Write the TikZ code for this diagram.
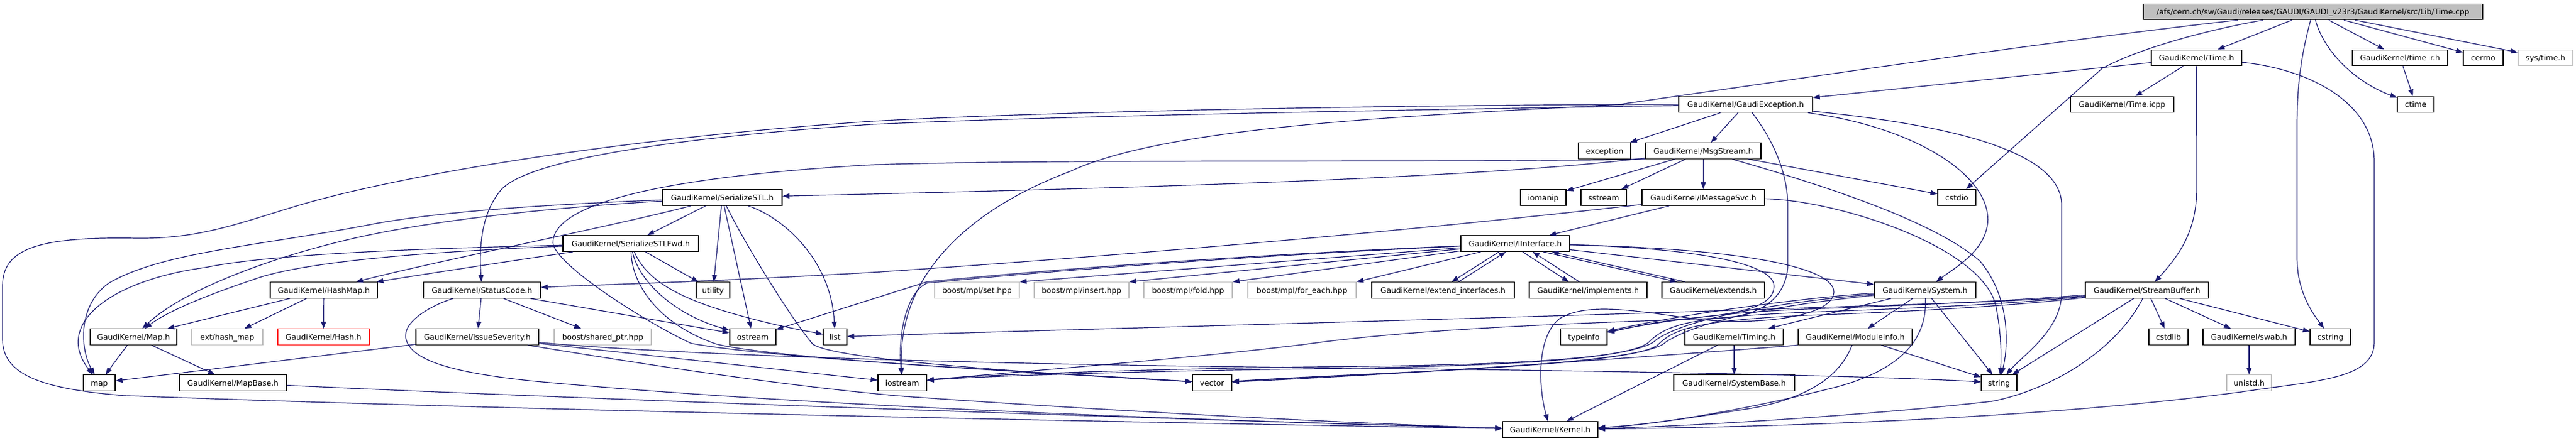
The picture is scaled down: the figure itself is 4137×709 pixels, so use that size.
\documentclass[tikz,border=0pt]{standalone}
\usepackage{fontspec}
\setmainfont{DejaVu Sans}
\usetikzlibrary{arrows.meta,calc}
\definecolor{edgecol}{HTML}{191970}
\definecolor{rootfill}{HTML}{BFBFBF}
\definecolor{missgray}{HTML}{BFBFBF}
\newcommand{\dgfont}{\fontsize{12.3}{14}\selectfont}
\begin{document}
\begin{tikzpicture}[x=1pt,y=-1pt,
  nbox/.style={draw=black, line width=1.3pt, fill=white, minimum height=25.5pt, inner sep=0pt, text height=9pt, text depth=0pt, font=\dgfont},
  miss/.style={nbox, draw=missgray},
  redb/.style={nbox, draw=red},
  edg/.style={draw=edgecol, line width=1.2pt, -{Triangle[length=11pt,width=8pt]}}]
\useasboundingbox[fill=white] (0,0) rectangle (4137,709);
% row 1
\node[nbox, fill=rootfill, minimum width=545pt] (root) at (3714.5,19) {/afs/cern.ch/sw/Gaudi/releases/GAUDI/GAUDI\_v23r3/GaudiKernel/src/Lib/Time.cpp};
% row 2
\node[nbox, minimum width=145pt] (timeh) at (3527.5,93) {GaudiKernel/Time.h};
\node[nbox, minimum width=153pt] (timerh) at (3854.5,93) {GaudiKernel/time\_r.h};
\node[nbox, minimum width=64pt] (cerrno) at (3988,93) {cerrno};
\node[miss, minimum width=88pt] (systime) at (4088,93) {sys/time.h};
% row 3
\node[nbox, minimum width=215pt] (gexc) at (2803.5,168) {GaudiKernel/GaudiException.h};
\node[nbox, minimum width=166pt] (ticpp) at (3408,168) {GaudiKernel/Time.icpp};
\node[nbox, minimum width=59pt] (ctime) at (3879.5,168) {ctime};
% row 4
\node[nbox, minimum width=84pt] (exception) at (2577,242.5) {exception};
\node[nbox, minimum width=185pt] (msgstream) at (2735.5,242.5) {GaudiKernel/MsgStream.h};
% row 5
\node[nbox, minimum width=192pt] (sstl) at (1160,317.5) {GaudiKernel/SerializeSTL.h};
\node[nbox, minimum width=73pt] (iomanip) at (2478.5,317.5) {iomanip};
\node[nbox, minimum width=73pt] (sstream) at (2575.5,317.5) {sstream};
\node[nbox, minimum width=197pt] (imsgsvc) at (2735.5,317.5) {GaudiKernel/IMessageSvc.h};
\node[nbox, minimum width=61pt] (cstdio) at (3142.5,317.5) {cstdio};
% row 6
\node[nbox, minimum width=218pt] (sstlfwd) at (1013,391.5) {GaudiKernel/SerializeSTLFwd.h};
\node[nbox, minimum width=175pt] (iiface) at (2433.5,391.5) {GaudiKernel/IInterface.h};
% row 7
\node[nbox, minimum width=172pt] (hashmap) at (520,466.5) {GaudiKernel/HashMap.h};
\node[nbox, minimum width=188pt] (statuscode) at (774,466.5) {GaudiKernel/StatusCode.h};
\node[nbox, minimum width=54pt] (utility) at (1145,466.5) {utility};
\node[miss, minimum width=136pt] (mplset) at (1569,466.5) {boost/mpl/set.hpp};
\node[miss, minimum width=152pt] (mplinsert) at (1737,466.5) {boost/mpl/insert.hpp};
\node[miss, minimum width=142pt] (mplfold) at (1908,466.5) {boost/mpl/fold.hpp};
\node[miss, minimum width=174pt] (mplforeach) at (2091,466.5) {boost/mpl/for\_each.hpp};
\node[nbox, minimum width=229pt] (extif) at (2317.5,466.5) {GaudiKernel/extend\_interfaces.h};
\node[nbox, minimum width=189pt] (implements) at (2550.5,466.5) {GaudiKernel/implements.h};
\node[nbox, minimum width=165pt] (extends) at (2751.5,466.5) {GaudiKernel/extends.h};
\node[nbox, minimum width=163pt] (system) at (3091.5,466.5) {GaudiKernel/System.h};
\node[nbox, minimum width=198pt] (streambuf) at (3448,466.5) {GaudiKernel/StreamBuffer.h};
% row 8
\node[nbox, minimum width=139pt] (maph) at (214.5,541.5) {GaudiKernel/Map.h};
\node[miss, minimum width=114pt] (hashext) at (365,541.5) {ext/hash\_map};
\node[redb, minimum width=147pt] (hashh) at (519.5,541.5) {GaudiKernel/Hash.h};
\node[nbox, minimum width=197pt] (issue) at (766.5,541.5) {GaudiKernel/IssueSeverity.h};
\node[miss, minimum width=156pt] (sharedptr) at (968,541.5) {boost/shared\_ptr.hpp};
\node[nbox, minimum width=74pt] (ostream) at (1209,541.5) {ostream};
\node[nbox, minimum width=38pt] (list) at (1341,541.5) {list};
\node[nbox, minimum width=75pt] (typeinfo) at (2543.5,541.5) {typeinfo};
\node[nbox, minimum width=158pt] (timing) at (2785,541.5) {GaudiKernel/Timing.h};
\node[nbox, minimum width=183pt] (modinfo) at (2979.5,541.5) {GaudiKernel/ModuleInfo.h};
\node[nbox, minimum width=63pt] (cstdlib) at (3482.5,541.5) {cstdlib};
\node[nbox, minimum width=148pt] (swab) at (3612,541.5) {GaudiKernel/swab.h};
\node[nbox, minimum width=65pt] (cstring) at (3742.5,541.5) {cstring};
% row 9
\node[nbox, minimum width=51pt] (map) at (159.5,615.5) {map};
\node[nbox, minimum width=172pt] (mapbase) at (374,615.5) {GaudiKernel/MapBase.h};
\node[nbox, minimum width=78pt] (iostream) at (1449,615.5) {iostream};
\node[nbox, minimum width=63pt] (vector) at (1946.5,615.5) {vector};
\node[nbox, minimum width=194pt] (sysbase) at (2785,615.5) {GaudiKernel/SystemBase.h};
\node[nbox, minimum width=57pt] (string) at (3210.5,615.5) {string};
\node[miss, minimum width=72pt] (unistd) at (3612,615.5) {unistd.h};
% row 10
\node[nbox, minimum width=153pt] (kernel) at (2489.5,690.5) {GaudiKernel/Kernel.h};

% ---- edges: Time.cpp
\draw[edg] (root) -- (timeh);
\draw[edg] (root) -- (timerh);
\draw[edg] (root) -- (cerrno);
\draw[edg] (root) -- (systime);
\draw[edg] (root) .. controls (3735,90) and (3790,135) .. (ctime);
\draw[edg] (root) .. controls (3695,90) and (3689,140) .. (3689,200) -- (3689,415) .. controls (3689,470) and (3715,505) .. (cstring);
\draw[edg] (root) .. controls (3560,45) and (3440,75) .. (3376,110) -- (cstdio);
\draw[edg] (root) .. controls (3300,65) and (2900,125) .. (2600,168) .. controls (2300,185) and (1880,200) .. (1720,275) .. controls (1560,335) and (1440,440) .. (iostream);
% Time.h
\draw[edg] (timeh) -- (gexc);
\draw[edg] (timeh) -- (ticpp);
\draw[edg] (timeh) -- (3528,300) .. controls (3528,360) and (3510,400) .. (streambuf);
\draw[edg] (timeh) .. controls (3700,110) and (3813,160) .. (3813,260) -- (3813,550) .. controls (3813,610) and (3720,612) .. (3600,630) .. controls (3300,670) and (2900,686) .. (kernel);
% time_r.h
\draw[edg] (timerh) -- (ctime);
% GaudiException.h
\draw[edg] (gexc) -- (exception);
\draw[edg] (gexc) -- (msgstream);
\draw[edg] (gexc) .. controls (2300,176) and (1700,186) .. (1400,200) .. controls (1100,220) and (850,255) .. (805,305) .. controls (775,340) and (769,390) .. (statuscode);
\draw[edg] (gexc) .. controls (2300,168) and (1700,178) .. (1400,195) .. controls (1000,222) and (650,280) .. (480,330) .. controls (380,360) and (320,384) .. (220,383) .. controls (60,380) and (4,400) .. (4,460) -- (4,545) .. controls (4,600) and (60,625) .. (200,636) .. controls (900,662) and (1900,680) .. (kernel);
\draw[edg] (gexc) .. controls (3080,205) and (3200,285) .. (3192,360) .. controls (3186,405) and (3140,430) .. (system);
\draw[edg] (gexc) .. controls (3120,200) and (3311,240) .. (3311,330) -- (3311,470) .. controls (3311,530) and (3250,570) .. (string);
\draw[edg] (gexc) .. controls (2840,215) and (2871,270) .. (2871,330) -- (2871,430) .. controls (2868,470) and (2840,505) .. (2770,511) .. controls (2600,518) and (2300,525) .. (2100,553) .. controls (1900,578) and (1600,600) .. (iostream);
% MsgStream.h
\draw[edg] (msgstream) -- (iomanip);
\draw[edg] (msgstream) -- (sstream);
\draw[edg] (msgstream) -- (imsgsvc);
\draw[edg] (msgstream) -- (cstdio);
\draw[edg] (msgstream) .. controls (2350,290) and (1700,305) .. (sstl);
\draw[edg] (msgstream.south west) .. controls (2300,262) and (1700,255) .. (1400,265) .. controls (1050,285) and (888,330) .. (888,390) .. controls (890,425) and (1040,520) .. (1110,552) .. controls (1250,578) and (1700,600) .. (vector);
\draw[edg] (msgstream) .. controls (2900,290) and (3100,350) .. (3180,420) .. controls (3230,480) and (3225,560) .. (string);
% IMessageSvc.h
\draw[edg] (imsgsvc) -- (iiface);
\draw[edg] (imsgsvc) .. controls (2950,322) and (3180,395) .. (3205,490) .. controls (3215,540) and (3214,580) .. (string);
\draw[edg] (imsgsvc) .. controls (2450,350) and (2000,398) .. (1400,438) .. controls (1100,455) and (950,458) .. (statuscode);
% IInterface.h
\draw[edg] (iiface) -- (mplset.north east);
\draw[edg] (iiface) -- (mplinsert.north east);
\draw[edg] (iiface) -- (mplfold.north east);
\draw[edg] (iiface) -- (mplforeach.north east);
\draw[edg] (iiface) .. controls (2000,410) and (1700,432) .. (1489,453) -- (ostream);
\draw[edg] (iiface) .. controls (2000,412) and (1700,434) .. (1489,455) .. controls (1455,470) and (1442,540) .. (iostream);
\draw[edg] (iiface) -- (system);
\draw[edg] (iiface) .. controls (2700,398) and (2849,420) .. (2849,460) .. controls (2849,497) and (2780,506) .. (2700,513) .. controls (2640,520) and (2605,530) .. (typeinfo);
\draw[edg] (iiface) .. controls (2800,400) and (2947,430) .. (2945,470) .. controls (2943,505) and (2850,520) .. (2760,516) .. controls (2680,512) and (2560,478) .. (2505,512) .. controls (2468,540) and (2470,620) .. (kernel);
\draw[edg] ($(iiface.south west)+(62,0)$) -- ($(extif.north west)+(129,0)$);
\draw[edg] ($(extif.north west)+(140,0)$) -- ($(iiface.south west)+(73,0)$);
\draw[edg] ($(iiface.south west)+(100,0)$) -- ($(implements.north west)+(64,0)$);
\draw[edg] ($(implements.north west)+(81,0)$) -- ($(iiface.south west)+(116,0)$);
\draw[edg] ($(iiface.south west)+(133,0)$) -- ($(extends.north west)+(25,0)$);
\draw[edg] ($(extends.north west)+(38,0)$) -- ($(iiface.south west)+(147,0)$);
% StatusCode.h
\draw[edg] (statuscode) -- (issue);
\draw[edg] (statuscode) -- (sharedptr);
\draw[edg] (statuscode) -- (ostream);
\draw[edg] (statuscode) .. controls (700,488) and (645,515) .. (652,545) .. controls (660,578) and (720,598) .. (850,612) .. controls (1300,655) and (2000,678) .. (kernel);
% IssueSeverity.h
\draw[edg] (issue) -- (map);
\draw[edg] (issue) -- (iostream);
\draw[edg] (issue) .. controls (1100,572) and (1600,586) .. (2100,591) .. controls (2600,596) and (3000,604) .. (string);
\draw[edg] (issue) .. controls (1000,580) and (1250,620) .. (1450,637) .. controls (1800,662) and (2200,682) .. (kernel);
% MapBase.h
\draw[edg] (mapbase) .. controls (900,640) and (1800,672) .. (kernel);
% HashMap.h
\draw[edg] (hashmap) -- (hashext);
\draw[edg] (hashmap) -- (hashh);
\draw[edg] (hashmap) -- (maph);
% Map.h
\draw[edg] (maph) -- (map);
\draw[edg] (maph) -- (mapbase);
% SerializeSTL.h
\draw[edg] (sstl) -- (sstlfwd);
\draw[edg] (sstl) -- (utility);
\draw[edg] (sstl) -- (ostream);
\draw[edg] (sstl) .. controls (1260,350) and (1335,420) .. (list);
\draw[edg] (sstl) .. controls (1190,380) and (1265,505) .. (1305,553) .. controls (1340,580) and (1700,602) .. (vector);
\draw[edg] (sstl) .. controls (1000,360) and (700,420) .. (hashmap);
\draw[edg] (sstl) .. controls (900,328) and (720,338) .. (600,360) .. controls (420,395) and (260,405) .. (175,455) .. controls (125,490) and (128,560) .. (map);
\draw[edg] (sstl) .. controls (900,333) and (700,352) .. (560,385) .. controls (420,418) and (290,470) .. (maph);
% SerializeSTLFwd.h
\draw[edg] (sstlfwd) -- (utility);
\draw[edg] (sstlfwd) .. controls (1025,450) and (1080,505) .. (ostream);
\draw[edg] (sstlfwd) .. controls (1040,455) and (1100,482) .. (1180,505) .. controls (1250,525) and (1300,533) .. (list);
\draw[edg] (sstlfwd) .. controls (1015,460) and (1060,522) .. (1150,553) .. controls (1250,578) and (1700,601) .. (vector);
\draw[edg] (sstlfwd) .. controls (850,415) and (700,438) .. (hashmap);
\draw[edg] (sstlfwd) .. controls (750,398) and (450,405) .. (330,430) .. controls (180,450) and (85,520) .. (map);
\draw[edg] (sstlfwd) .. controls (750,402) and (520,415) .. (420,445) .. controls (330,475) and (270,500) .. (maph);
% StreamBuffer.h
\draw[edg] (streambuf) -- (cstdlib);
\draw[edg] (streambuf) -- (swab);
\draw[edg] (streambuf) -- (cstring);
\draw[edg] (streambuf) -- (string);
\draw[edg] (streambuf) .. controls (3400,560) and (3300,625) .. (3200,645) .. controls (3000,668) and (2700,686) .. (kernel);
\draw[edg] (streambuf) .. controls (3250,485) and (3100,488) .. (2900,495) .. controls (2400,512) and (1700,530) .. (list);
\draw[edg] (streambuf) .. controls (3250,482) and (3100,490) .. (2900,497) .. controls (2750,503) and (2650,520) .. (typeinfo);
\draw[edg] (streambuf) .. controls (3250,487) and (3100,495) .. (2900,502) .. controls (2720,510) and (2680,520) .. (2650,548) .. controls (2620,585) and (2300,590) .. (2100,593) .. controls (1800,597) and (1550,606) .. (iostream);
\draw[edg] (streambuf) .. controls (3250,490) and (3100,500) .. (2900,507) .. controls (2730,515) and (2690,528) .. (2665,552) .. controls (2635,590) and (2200,598) .. (vector);
% System.h
\draw[edg] (system) -- (modinfo);
\draw[edg] (system) -- (timing);
\draw[edg] (system) -- (string);
\draw[edg] (system) .. controls (3095,540) and (3060,592) .. (2950,622) .. controls (2800,660) and (2650,684) .. (kernel);
\draw[edg] (system) .. controls (2900,478) and (2700,505) .. (typeinfo);
\draw[edg] (system) .. controls (2900,482) and (2720,505) .. (2660,546) .. controls (2625,585) and (2300,588) .. (2100,590) .. controls (1800,594) and (1550,604) .. (iostream);
\draw[edg] (system) .. controls (2900,486) and (2740,508) .. (2675,550) .. controls (2640,588) and (2200,600) .. (vector);
% Timing.h
\draw[edg] (timing) -- (sysbase);
\draw[edg] (timing) -- (kernel);
% ModuleInfo.h
\draw[edg] (modinfo) -- (string);
\draw[edg] (modinfo) .. controls (2955,605) and (2905,638) .. (2820,655) .. controls (2700,675) and (2620,685) .. (kernel);
\draw[edg] (modinfo.south west) .. controls (2800,562) and (2300,600) .. (vector);
% swab.h
\draw[edg] (swab) -- (unistd);
\end{tikzpicture}
\end{document}
